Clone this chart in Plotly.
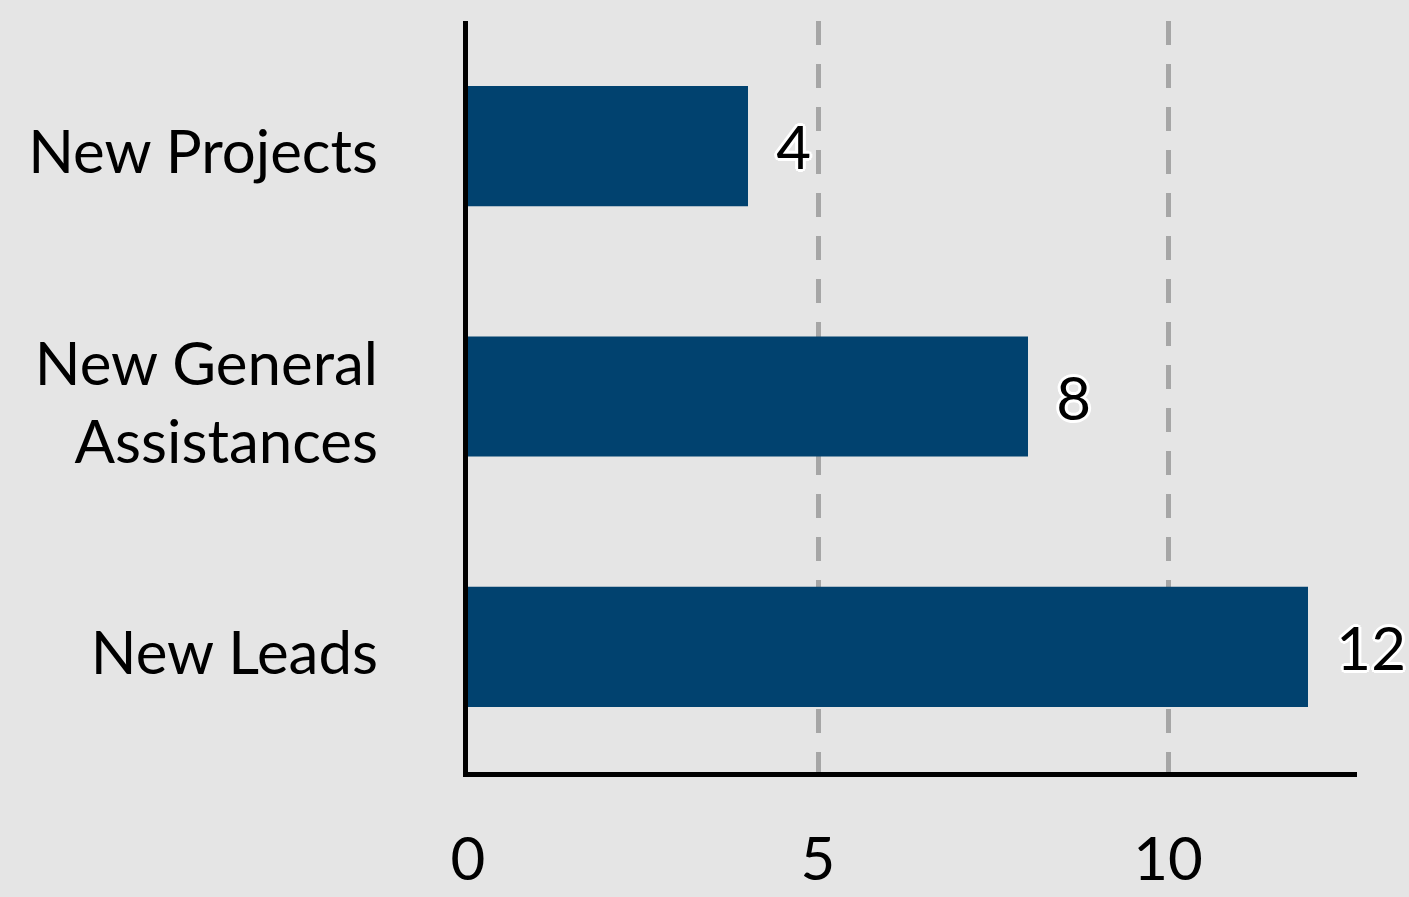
import plotly.graph_objects as go

categories = ["New Leads", "New General<br>Assistances", "New Projects"]
values = [12, 8, 4]
x_ticks = [0, 5, 10]
x_tick_labels = ["0", "5", "10"]

BAR = "#01426f"
BG = "#e5e5e5"
FONT = "Lato"

outline = ", ".join(
    f"white {dx}px {dy}px 0px"
    for dx, dy in [(3, 0), (-3, 0), (0, 3), (0, -3), (2, 2), (-2, -2), (2, -2), (-2, 2)]
)

fig = go.Figure(
    go.Bar(
        x=values,
        y=categories,
        orientation="h",
        marker=dict(color=BAR, line=dict(width=0)),
        width=0.48,
        text=values,
        texttemplate="\u00a0\u2006%{x}",
        textposition="outside",
        constraintext="none",
        cliponaxis=False,
        textfont=dict(family=FONT, size=60, color="black", shadow=outline),
        hoverinfo="skip",
    )
)

fig.update_layout(
    width=1409,
    height=897,
    margin=dict(l=467.5, r=52, t=21, b=124.5, autoexpand=False),
    paper_bgcolor=BG,
    plot_bgcolor=BG,
    font=dict(family=FONT, size=60, color="black"),
    showlegend=False,
    bargap=0.52,
)

fig.update_xaxes(
    range=[0, 12.7],
    tickvals=x_ticks,
    ticktext=x_tick_labels,
    showgrid=True,
    gridcolor="#a6a6a6",
    gridwidth=5,
    griddash="24px,19px",
    zeroline=False,
    showline=True,
    linecolor="black",
    linewidth=5,
    ticks="",
    ticklabelstandoff=31,
    tickfont=dict(family=FONT, size=60, color="black"),
)

fig.update_yaxes(
    categoryorder="array",
    categoryarray=categories,
    showgrid=False,
    zeroline=False,
    showline=True,
    linecolor="black",
    linewidth=5,
    ticks="",
    ticklabelstandoff=73,
    ticklabelshift=6,
    tickfont=dict(family=FONT, size=60, color="black"),
)

fig.write_html(
    "out.html",
    config={"displayModeBar": False},
    post_script="document.body.style.margin='0';document.body.style.overflow='hidden';",
)
